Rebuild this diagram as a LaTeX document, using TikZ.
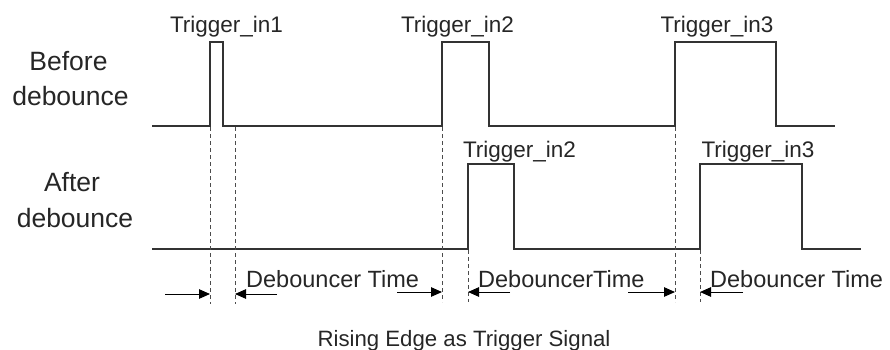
\documentclass[tikz,border=0pt]{standalone}
\usepackage{fontspec}
\setmainfont{Liberation Sans}
\usetikzlibrary{arrows.meta}
\tikzset{
  wave/.style={draw=black!80, line width=1.1pt, line join=miter},
  guide/.style={draw=black!70, line width=0.9pt, dash pattern=on 4pt off 3pt},
  dimarrow/.style={draw=black, line width=1pt, -{Triangle[length=11pt,width=9.5pt]}},
  lbl/.style={inner sep=0pt, anchor=base, text=black!85},
  trig/.style={lbl, font=\fontsize{22.5}{26}\selectfont},
  side/.style={lbl, font=\fontsize{26.5}{30}\selectfont},
  deb/.style={lbl, anchor=base west, font=\fontsize{23.5}{28}\selectfont},
  captionlbl/.style={lbl, font=\fontsize{22.2}{26}\selectfont}
}
\begin{document}
\begin{tikzpicture}[x=1pt,y=-1pt]
\useasboundingbox (0,0) rectangle (890,349);
% waveforms
\draw[wave] (152,126) -- (210,126) -- (210,42) -- (223,42) -- (223,126)
  -- (442,126) -- (442,42) -- (489,42) -- (489,126)
  -- (675,126) -- (675,42) -- (776,42) -- (776,126) -- (835,126);
\draw[wave] (152,249) -- (468,249) -- (468,164) -- (514,164) -- (514,249)
  -- (700,249) -- (700,164) -- (802,164) -- (802,249) -- (861,249);
% guide lines
\coordinate (g1t) at (210,127); \coordinate (g1b) at (210,304);
\coordinate (g2t) at (235,127); \coordinate (g2b) at (235,304);
\coordinate (g3t) at (442,127); \coordinate (g3b) at (442,302);
\coordinate (g4t) at (468,250); \coordinate (g4b) at (468,302);
\coordinate (g5t) at (675,127); \coordinate (g5b) at (675,302);
\coordinate (g6t) at (700,250); \coordinate (g6b) at (700,302);
\foreach \g in {1,...,6} \draw[guide] (g\g t) -- (g\g b);
% dimension arrows
\coordinate (a1s) at (165,294); \coordinate (a1e) at (210,294);
\coordinate (a2s) at (277,294); \coordinate (a2e) at (235,294);
\coordinate (a3s) at (397,292); \coordinate (a3e) at (442,292);
\coordinate (a4s) at (510,292); \coordinate (a4e) at (468,292);
\coordinate (a5s) at (628,292); \coordinate (a5e) at (675,292);
\coordinate (a6s) at (743,292); \coordinate (a6e) at (700,292);
\foreach \a in {1,...,6} \draw[dimarrow] (a\a s) -- (a\a e);
% labels
\node[trig] (t1) at (226.5,32) {Trigger\_in1};
\node[trig] (t2) at (457.5,32) {Trigger\_in2};
\node[trig] (t3) at (717,32) {Trigger\_in3};
\node[trig] (t4) at (519.5,157) {Trigger\_in2};
\node[trig] (t5) at (758,157) {Trigger\_in3};
\node[side] (b1) at (68.5,70) {Before};
\node[side] (b2) at (70.5,105) {debounce};
\node[side] (c1) at (72,191) {After};
\node[side] (c2) at (75,227) {debounce};
\node[deb] (d1) at (246,287) {Debouncer Time};
\node[deb] (d2) at (478,287) {DebouncerTime};
\node[deb] (d3) at (710,287) {Debouncer Time};
\node[captionlbl] (rs) at (464,346) {Rising Edge as Trigger Signal};
\end{tikzpicture}
\end{document}
